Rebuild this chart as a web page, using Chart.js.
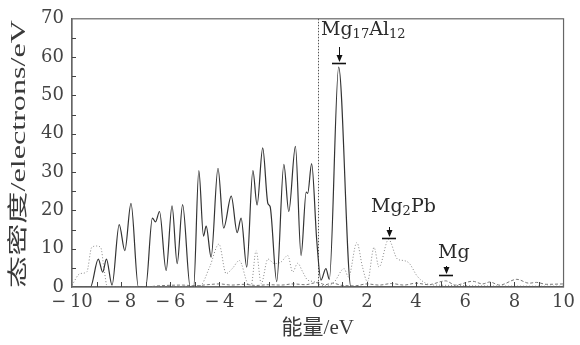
<!DOCTYPE html>
<html>
<head>
<meta charset="utf-8">
<script src="https://cdn.jsdelivr.net/npm/chart.js@4/dist/chart.umd.min.js"></script>
<style>
  html, body { margin: 0; padding: 0; background: #fff; }
  #wrap { width: 580px; height: 345px; }
</style>
</head>
<body>
<div id="wrap"><canvas id="dosChart"></canvas></div>
<script>
// density of states (energy in eV, DOS in electrons/eV)
const mg17al12X = [-10, -9.25, -8.93, -8.75, -8.6, -8.37, -8.08, -7.85, -7.6, -7.3, -7.0, -6.73, -6.6, -6.44, -6.17, -5.93, -5.72, -5.5, -5.19, -5.05,
  -4.84, -4.65, -4.54, -4.34, -4.06, -3.83, -3.52, -3.28, -3.12, -2.89, -2.64, -2.47, -2.24, -2.03, -1.94, -1.67, -1.38, -1.18, -0.91, -0.68,
  -0.47, -0.41, -0.25, -0.04, 0.13, 0.33, 0.47, 0.85, 1.35, 10];
const mg17al12Y = [0, 0, 7.3, 3.9, 7.3, 0.5, 16.3, 9.5, 21.8, 0, 0, 18, 17, 19.7, 4.3, 21.2, 6.1, 21.5, 0, 0,
  30.4, 13.3, 15.9, 7.8, 31, 15.4, 23.7, 14.2, 18, 5.2, 30.4, 21.4, 36.3, 21.8, 21, 1.4, 32, 19.7, 36.7, 8.2,
  24.8, 24.4, 32.2, 12, 1.8, 4.8, 2, 57.4, 0, 0];

const mg2pbX = [-10, -9.67, -9.4, -9.2, -9.0, -8.83, -8.69, -8.56, -4.8, -4.4, -4.02, -3.73, -3.48, -3.19, -2.85, -2.71, -2.51, -2.3, -2.03, -1.76,
  -1.5, -1.22, -1.02, -0.82, -0.61, -0.41, -0.14, 0.1, 0.4, 0.67, 1.07, 1.25, 1.59, 1.82, 2.02, 2.29, 2.49, 2.88, 3.24, 3.5,
  3.72, 4.05, 4.39, 4.8, 10];
const mg2pbY = [0.5, 3.5, 3.9, 10.3, 10.7, 10.3, 4.4, 0, 0.3, 5.2, 11.2, 3.5, 4.8, 6.9, 0.9, 0.5, 9.5, 0.9, 7.3, 6.1,
  6.5, 8.2, 3.9, 6.2, 3.9, 1.8, 1.4, 0.5, 0.3, 1.3, 4.8, 2.6, 11.6, 5.2, 1.4, 10.3, 5.2, 12.4, 7.3, 6.9,
  6.2, 2.8, 1.0, 0.5, 0.2];

const mgX = [-10, -7, -6.5, -5.5, -5, -4.5, -4, -3.5, -3, -2.5, -2, -1.5, -1, -0.5, 0, 0.3, 0.6, 1.0, 1.5, 2.0,
  2.5, 3.0, 3.5, 4.0, 4.5, 5.2, 5.6, 6.3, 6.7, 7.0, 7.4, 8.1, 8.6, 8.9, 9.3, 10];
const mgY = [0, 0, 0.3, 0.5, 0.3, 0.6, 0.8, 0.5, 0.7, 0.4, 0.6, 0.5, 0.8, 0.6, 1.2, 0.6, 1.0, 0.4, 0.3, 0.8,
  0.5, 0.9, 0.5, 1.0, 0.6, 1.6, 0.5, 1.5, 0.8, 1.3, 0.5, 2.0, 1.0, 1.2, 0.7, 0.8];

// marked peaks
const peakNames = ['Mg17Al12', 'Mg2Pb', 'Mg'];
const peakX = [0.85, 2.9, 5.2];
const peakBarY = [58.4, 12.8, 3.1];

const xTicks = [-10, -8, -6, -4, -2, 0, 2, 4, 6, 8, 10];
const yTicks = [0, 10, 20, 30, 40, 50, 60, 70];
const yTitle = '态密度/electrons/eV';
const xTitle = '能量/eV';

const serif = "'DejaVu Serif', 'Liberation Serif', serif";
const cjk = "'DejaVu Serif', 'Noto Sans CJK SC', serif";
const thinCjk = "'Liberation Serif', 'Noto Sans CJK SC', serif";

function toPoints(xs, ys) {
    return xs.map((x, i) => ({ x: x, y: ys[i] }));
}

// box, inward ticks, Fermi level line, y title and peak labels
const decorPlugin = {
    id: 'decor',
    beforeDatasetsDraw(chart) {
        const { ctx, chartArea: a, scales: { x } } = chart;
        ctx.save();
        ctx.strokeStyle = '#555';
        ctx.lineWidth = 1;
        ctx.setLineDash([1.5, 1.5]);
        const x0 = Math.round(x.getPixelForValue(0)) + 0.5;
        ctx.beginPath();
        ctx.moveTo(x0, a.top);
        ctx.lineTo(x0, a.bottom);
        ctx.stroke();
        ctx.restore();
    },
    afterDraw(chart) {
        const { ctx, chartArea: a, scales: { x, y } } = chart;
        ctx.save();
        ctx.strokeStyle = '#666';
        ctx.lineWidth = 1.2;
        ctx.strokeRect(a.left, a.top, a.right - a.left, a.bottom - a.top);

        ctx.lineWidth = 1;
        ctx.strokeStyle = '#444';
        ctx.beginPath();
        for (let v = -9; v <= 9; v++) {
            const px = Math.round(x.getPixelForValue(v)) + 0.5;
            ctx.moveTo(px, a.bottom);
            ctx.lineTo(px, a.bottom - 5);
        }
        for (let v = 5; v < 70; v += 5) {
            const py = Math.round(y.getPixelForValue(v)) + 0.5;
            ctx.moveTo(a.left, py);
            ctx.lineTo(a.left + 4, py);
        }
        ctx.stroke();

        // y title, stretched along its length like the original figure
        ctx.save();
        ctx.translate(20, 154);
        ctx.rotate(-Math.PI / 2);
        ctx.font = '20px ' + thinCjk;
        const w = ctx.measureText(yTitle).width;
        ctx.scale(268 / w, 1);
        ctx.fillStyle = '#3a3a3a';
        ctx.textAlign = 'center';
        ctx.textBaseline = 'middle';
        ctx.fillText(yTitle, 0, 0);
        ctx.restore();

        // peak markers
        const textDx = [-18, -18, -8];
        const textUp = [21, 24, 17];
        const arrowLen = [14, 9, 7];
        peakNames.forEach((name, i) => {
            const px = Math.round(x.getPixelForValue(peakX[i]));
            const py = Math.round(y.getPixelForValue(peakBarY[i]));
            ctx.strokeStyle = '#111';
            ctx.fillStyle = '#111';
            ctx.lineWidth = 1.6;
            ctx.beginPath();
            ctx.moveTo(px - 7, py + 0.5);
            ctx.lineTo(px + 7, py + 0.5);
            ctx.stroke();
            ctx.lineWidth = 1;
            ctx.beginPath();
            ctx.moveTo(px + 0.5, py - 2 - arrowLen[i]);
            ctx.lineTo(px + 0.5, py - 2);
            ctx.stroke();
            ctx.beginPath();
            ctx.moveTo(px + 0.5, py - 1);
            ctx.lineTo(px - 2.5, py - 8);
            ctx.lineTo(px + 3.5, py - 8);
            ctx.closePath();
            ctx.fill();

            // text with subscripts
            let tx = px + textDx[i];
            const base = py - textUp[i] - (arrowLen[i] - 7);
            ctx.fillStyle = '#2a2a2a';
            ctx.textBaseline = 'alphabetic';
            ctx.textAlign = 'left';
            const parts = name.match(/[A-Za-z]+|\d+/g);
            parts.forEach(p => {
                const sub = /\d/.test(p);
                ctx.font = (sub ? '13px ' : '19px ') + serif;
                ctx.fillText(p, tx, sub ? base + 3 : base);
                tx += ctx.measureText(p).width;
            });
        });
        ctx.restore();
    }
};

const ctx = document.getElementById('dosChart').getContext('2d');
const chart = new Chart(ctx, {
    type: 'line',
    data: {
        datasets: [
            { label: 'Mg17Al12', data: toPoints(mg17al12X, mg17al12Y), borderColor: '#333', borderWidth: 1.2, pointRadius: 0, fill: false, cubicInterpolationMode: 'monotone' },
            { label: 'Mg2Pb', data: toPoints(mg2pbX, mg2pbY), borderColor: '#888', borderWidth: 1, borderDash: [1, 2], pointRadius: 0, fill: false, cubicInterpolationMode: 'monotone' },
            { label: 'Mg', data: toPoints(mgX, mgY), borderColor: '#777', borderWidth: 1, borderDash: [3, 2], pointRadius: 0, fill: false, cubicInterpolationMode: 'monotone' }
        ]
    },
    options: {
        responsive: true,
        maintainAspectRatio: false,
        animation: false,
        layout: { padding: { top: 13, right: 15, left: 0, bottom: 0 } },
        plugins: { legend: { display: false }, tooltip: { enabled: false } },
        scales: {
            x: {
                type: 'linear', min: -10, max: 10,
                afterFit: s => { s.height = 58; },
                afterBuildTicks: s => { s.ticks = xTicks.map(v => ({ value: v })); },
                grid: { display: false, drawTicks: false },
                border: { display: true, color: '#666', width: 1.2 },
                ticks: {
                    padding: 5, color: '#444', font: { family: serif, size: 18 },
                    callback: v => v < 0 ? '\u2212\u2009' + Math.abs(v) : String(v)
                },
                title: { display: true, text: xTitle, color: '#3a3a3a', font: { family: thinCjk, size: 21 }, padding: { top: 0, bottom: 4 } }
            },
            y: {
                min: 0, max: 70,
                afterFit: s => { s.width = 72; },
                afterBuildTicks: s => { s.ticks = yTicks.map(v => ({ value: v })); },
                grid: { display: false, drawTicks: false },
                border: { display: true, color: '#666', width: 1.2 },
                ticks: { padding: 8, color: '#444', font: { family: serif, size: 18 } },
                title: { display: false }
            }
        }
    },
    plugins: [decorPlugin]
});
</script>
</body>
</html>
